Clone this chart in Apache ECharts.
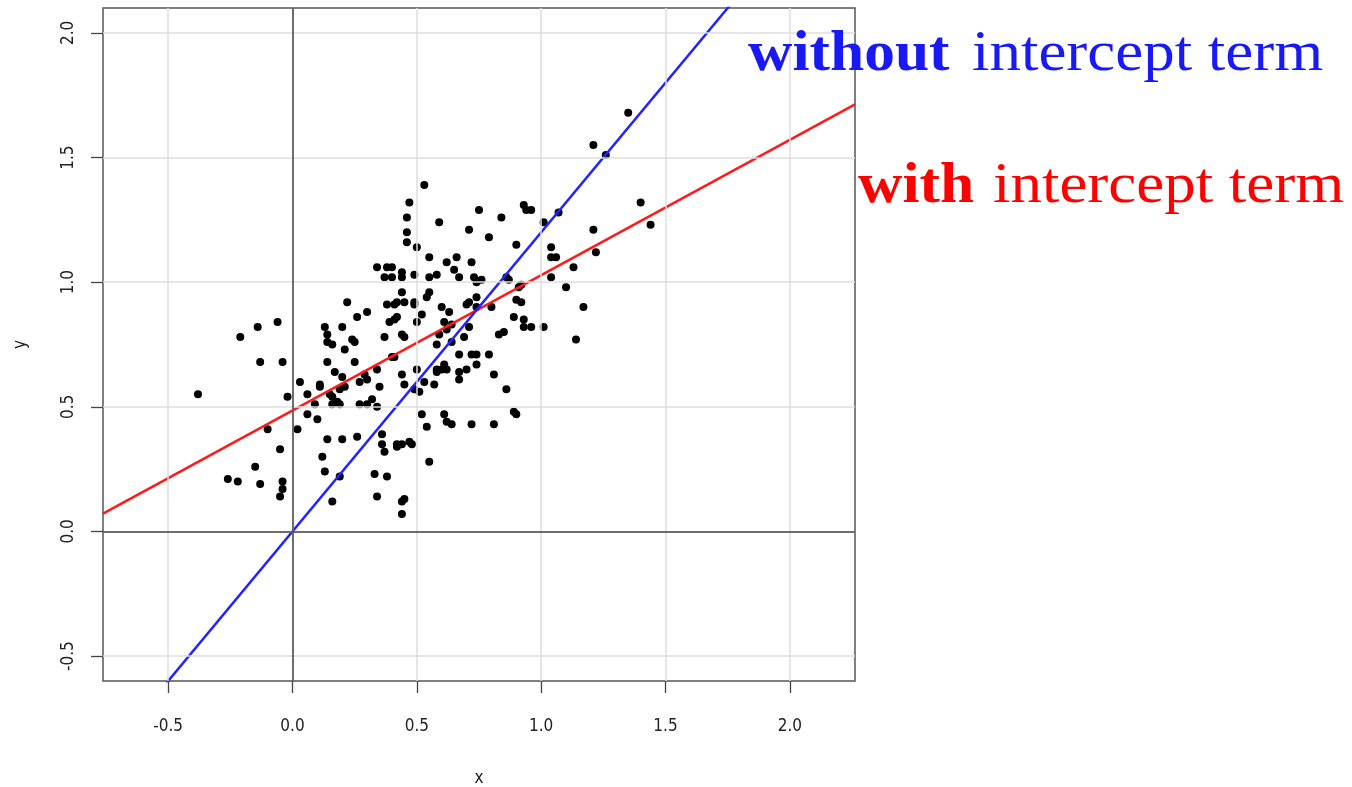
<!DOCTYPE html>
<html>
<head>
<meta charset="utf-8">
<script src="https://cdn.jsdelivr.net/npm/echarts@6/dist/echarts.min.js"></script>
<style>
  html, body { margin: 0; padding: 0; background: #fff; }
  #chart { width: 1352px; height: 787px; }
</style>
</head>
<body>
<div id="chart"></div>
<script>
// Axis ticks
const xTicks = [-0.5, 0, 0.5, 1, 1.5, 2];
const yTicks = [-0.5, 0, 0.5, 1, 1.5, 2];
const xLimits = [-0.762, 2.262];
const yLimits = [-0.6, 2.1];

// Observations
const xs = [
  -0.38, -0.21, -0.14, -0.06, -0.13, -0.04, -0.02, -0.10, -0.05, -0.15,
  -0.26, -0.22, -0.13, -0.04, -0.04, -0.05, 0.02, 0.03, 0.06, 0.09,
  0.06, 0.10, 0.14, 0.20, 0.12, 0.13, 0.19, 0.16, 0.13, 0.20,
  0.14, 0.14, 0.16, 0.21, 0.14, 0.17, 0.20, 0.11, 0.11, 0.15,
  0.21, 0.19, 0.16, 0.18, 0.16, 0.19, 0.22, 0.24, 0.25, 0.25,
  0.26, 0.30, 0.27, 0.27, 0.29, 0.30, 0.34, 0.35, 0.32, 0.34,
  0.30, 0.37, 0.40, 0.41, 0.39, 0.41, 0.42, 0.44, 0.45, 0.38,
  0.41, 0.42, 0.26, 0.36, 0.36, 0.37, 0.42, 0.42, 0.33, 0.38,
  0.34, 0.34, 0.38, 0.40, 0.37, 0.40, 0.44, 0.45, 0.44, 0.47,
  0.55, 0.45, 0.49, 0.49, 0.44, 0.50, 0.52, 0.55, 0.54, 0.60,
  0.63, 0.61, 0.62, 0.64, 0.59, 0.58, 0.64, 0.61, 0.60, 0.62,
  0.58, 0.58, 0.50, 0.44, 0.45, 0.49, 0.51, 0.53, 0.57, 0.52,
  0.61, 0.62, 0.64, 0.54, 0.53, 0.47, 0.46, 0.59, 0.46, 0.46,
  0.50, 0.55, 0.62, 0.44, 0.44, 0.49, 0.58, 0.55, 0.44, 0.48,
  0.66, 0.72, 0.65, 0.67, 0.73, 0.74, 0.76, 0.69, 0.71, 0.71,
  0.74, 0.74, 0.80, 0.83, 0.85, 0.67, 0.72, 0.74, 0.79, 0.74,
  0.67, 0.67, 0.70, 0.81, 0.72, 0.81, 0.75, 0.71, 0.79, 0.84,
  0.90, 0.93, 0.94, 0.96, 1.01, 1.07, 0.89, 0.90, 0.86, 0.87,
  0.91, 0.92, 0.92, 0.93, 0.93, 0.96, 1.01, 0.86, 0.89, 0.90,
  1.04, 1.04, 1.06, 1.04, 1.13, 1.10, 1.17, 1.14, 1.21, 1.22,
  1.21, 1.26, 1.35, 1.40, 1.44, 0.70
];
const ys = [
  0.55, 0.78, 0.82, 0.84, 0.68, 0.68, 0.54, 0.41, 0.33, 0.26,
  0.21, 0.20, 0.19, 0.20, 0.17, 0.14, 0.41, 0.60, 0.55, 0.51,
  0.47, 0.45, 0.37, 0.37, 0.30, 0.24, 0.22, 0.12, 0.82, 0.82,
  0.79, 0.76, 0.75, 0.73, 0.68, 0.64, 0.62, 0.59, 0.58, 0.55,
  0.58, 0.57, 0.54, 0.52, 0.51, 0.51, 0.92, 0.77, 0.76, 0.68,
  0.86, 0.88, 0.51, 0.60, 0.63, 0.61, 0.65, 0.58, 0.53, 0.50,
  0.51, 0.78, 0.70, 0.70, 0.84, 0.85, 0.86, 0.79, 0.78, 0.91,
  0.91, 0.92, 0.38, 0.39, 0.35, 0.32, 0.34, 0.35, 0.23, 0.22,
  0.14, 1.06, 1.06, 1.06, 1.02, 1.02, 0.12, 0.13, 0.07, 0.36,
  0.28, 0.92, 0.92, 0.91, 0.96, 0.84, 0.87, 0.96, 0.94, 0.90,
  0.88, 0.84, 0.81, 0.83, 0.79, 0.75, 0.76, 0.67, 0.65, 0.65,
  0.65, 0.64, 0.65, 0.63, 0.59, 0.57, 0.56, 0.60, 0.59, 0.47,
  0.47, 0.44, 0.43, 0.42, 1.39, 1.32, 1.26, 1.24, 1.20, 1.16,
  1.14, 1.10, 1.08, 1.04, 1.02, 1.03, 1.03, 1.02, 0.35, 0.35,
  1.10, 1.08, 1.05, 1.02, 1.02, 1.00, 1.01, 0.78, 0.82, 0.92,
  0.94, 0.90, 0.90, 0.79, 0.80, 0.71, 0.71, 0.71, 0.71, 0.67,
  0.64, 0.61, 0.65, 0.63, 0.43, 0.43, 1.29, 1.21, 1.18, 1.26,
  1.15, 1.31, 1.29, 1.29, 1.24, 1.28, 0.86, 0.93, 1.02, 1.01,
  0.98, 0.99, 0.92, 0.85, 0.82, 0.82, 0.82, 0.57, 0.48, 0.47,
  1.14, 1.10, 1.10, 1.02, 1.06, 0.98, 0.90, 0.77, 1.21, 1.12,
  1.55, 1.51, 1.68, 1.32, 1.23, 0.91
];

// Fitted lines: [intercept, slope]
const fitWithIntercept = [0.485, 0.543];
const fitThroughOrigin = [0, 1.2];

const points = xs.map((x, i) => [x, ys[i]]);
const lineAcross = (coef) => xLimits.map(x => [x, coef[0] + coef[1] * x]);

const labelFont = '"DejaVu Sans Condensed", "Liberation Sans", sans-serif';
const serif = '"Liberation Serif", "DejaVu Serif", serif';

const chart = echarts.init(document.getElementById('chart'), null, { renderer: 'canvas' });

chart.setOption({
  animation: false,
  backgroundColor: '#ffffff',
  grid: {
    left: 103, top: 8, right: 497, bottom: 106,
    outerBoundsMode: 'none', containLabel: false,
    show: true, borderColor: '#555', borderWidth: 1.5, backgroundColor: 'transparent'
  },
  xAxis: {
    type: 'value', min: xLimits[0], max: xLimits[1],
    name: 'x', nameLocation: 'middle', nameGap: 89,
    nameTextStyle: { fontFamily: labelFont, fontSize: 17, color: '#222' },
    axisLine: { show: false, onZero: false },
    axisTick: { show: true, inside: false, length: 12, customValues: xTicks, lineStyle: { color: '#444', width: 1.3 } },
    axisLabel: { customValues: xTicks, margin: 37, fontFamily: labelFont, fontSize: 17, color: '#222',
                 formatter: v => v.toFixed(1) },
    splitLine: { show: false }
  },
  yAxis: {
    type: 'value', min: yLimits[0], max: yLimits[1],
    name: 'y', nameLocation: 'middle', nameGap: 74, nameRotate: 90,
    nameTextStyle: { fontFamily: labelFont, fontSize: 17, color: '#222' },
    axisLine: { show: false, onZero: false },
    axisTick: { show: true, inside: false, length: 12, customValues: yTicks, lineStyle: { color: '#444', width: 1.3 } },
    axisLabel: { customValues: yTicks, rotate: 90, margin: 26, fontFamily: labelFont, fontSize: 17, color: '#222',
                 formatter: v => v.toFixed(1) },
    splitLine: { show: false }
  },
  series: [
    {
      // background grid lines
      type: 'scatter', data: [], z: 1, silent: true,
      markLine: {
        silent: true, symbol: ['none', 'none'], label: { show: false },
        emphasis: { disabled: true },
        lineStyle: { color: '#dedede', width: 1.5, type: 'solid' },
        data: xTicks.map(v => ({ xAxis: v })).concat(yTicks.map(v => ({ yAxis: v })))
      }
    },
    {
      // reference lines through the origin
      type: 'scatter', data: [], z: 2, silent: true,
      markLine: {
        silent: true, symbol: ['none', 'none'], label: { show: false },
        emphasis: { disabled: true },
        lineStyle: { color: '#444', width: 1.5, type: 'solid' },
        data: [{ xAxis: 0 }, { yAxis: 0 }]
      }
    },
    {
      type: 'scatter', data: points, z: 3, symbol: 'circle', symbolSize: 8,
      itemStyle: { color: '#000', opacity: 1 }
    },
    {
      type: 'line', data: lineAcross(fitWithIntercept), z: 4, symbol: 'none', clip: true,
      lineStyle: { color: '#ff1a1a', width: 2.5 }
    },
    {
      type: 'line', data: lineAcross(fitThroughOrigin), z: 4, symbol: 'none', clip: true,
      lineStyle: { color: '#2222ff', width: 2.5 }
    }
  ],
  graphic: [
    { type: 'text', x: 748, y: 26, scaleX: 1.06, z: 10,
      style: { text: 'without', font: 'bold 58px ' + serif, fill: '#1919f5' } },
    { type: 'text', x: 972, y: 26, scaleX: 1.085, z: 10,
      style: { text: 'intercept term', font: '58px ' + serif, fill: '#1919f5' } },
    { type: 'text', x: 858, y: 158, scaleX: 1.06, z: 10,
      style: { text: 'with', font: 'bold 58px ' + serif, fill: '#ff0000' } },
    { type: 'text', x: 993, y: 158, scaleX: 1.085, z: 10,
      style: { text: 'intercept term', font: '58px ' + serif, fill: '#ff0000' } }
  ]
});
</script>
</body>
</html>
